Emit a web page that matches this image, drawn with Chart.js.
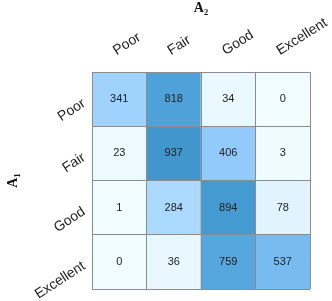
<!DOCTYPE html>
<html>
<head>
<meta charset="utf-8">
<script src="https://cdn.jsdelivr.net/npm/chart.js@4"></script>
<style>
html, body { margin: 0; padding: 0; background: #fff; }
#wrap { width: 332px; height: 301px; }
</style>
</head>
<body>
<div id="wrap"><canvas id="heat"></canvas></div>
<script>
// categories
const colLabels = ['Poor', 'Fair', 'Good', 'Excellent'];   // A2
const rowLabels = ['Poor', 'Fair', 'Good', 'Excellent'];   // A1
// counts per row (A1), one value per column (A2)
const rowPoor = [341, 818, 34, 0];
const rowFair = [23, 937, 406, 3];
const rowGood = [1, 284, 894, 78];
const rowExcellent = [0, 36, 759, 537];
const counts = [rowPoor, rowFair, rowGood, rowExcellent];
const titleX = 'A₂';
const titleY = 'A₁';

const maxCount = Math.max(...counts.flat());

// light cyan -> blue colour map
const stops = [
    [0.00, [240, 252, 255]],
    [0.08, [226, 243, 254]],
    [0.30, [172, 217, 255]],
    [0.45, [142, 200, 251]],
    [0.60, [114, 184, 239]],
    [0.85, [80, 164, 219]],
    [1.00, [64, 150, 205]]
];
function cellColor(v) {
    let t = v / maxCount;
    for (let i = 1; i < stops.length; i++) {
        if (t <= stops[i][0]) {
            let a = stops[i - 1], b = stops[i];
            let f = (t - a[0]) / (b[0] - a[0]);
            let c = a[1].map((x, k) => Math.round(x + (b[1][k] - x) * f));
            return 'rgb(' + c.join(',') + ')';
        }
    }
    return 'rgb(' + stops[stops.length - 1][1].join(',') + ')';
}

const gridColor = '#8c8c8c';
const tickFont = { family: '"Liberation Sans", Arial, sans-serif', size: 14 };
const titleFont = { family: '"Liberation Serif", serif', size: 14, weight: 'bold' };

// write the count in the middle of each cell
const cellText = {
    id: 'cellText',
    afterDatasetsDraw(chart) {
        let ctx = chart.ctx;
        ctx.save();
        ctx.font = '11px "Liberation Sans", Arial, sans-serif';
        ctx.fillStyle = '#222';
        ctx.textAlign = 'center';
        ctx.textBaseline = 'middle';
        counts.forEach(function(row, r) {
            chart.getDatasetMeta(r).data.forEach(function(bar, j) {
                ctx.fillText(String(row[j]), bar.x, (bar.y + bar.base) / 2);
            });
        });
        ctx.restore();
    }
};

const datasets = counts.map(function(row, r) {
    return {
        label: rowLabels[r],
        data: row.map(function() { return [r, r + 1]; }),
        backgroundColor: row.map(cellColor),
        borderWidth: 0
    };
});

new Chart(document.getElementById('heat'), {
    type: 'bar',
    data: { labels: colLabels, datasets: datasets },
    plugins: [cellText],
    options: {
        responsive: true,
        maintainAspectRatio: false,
        animation: false,
        layout: { padding: { top: 0, left: 0, right: 22, bottom: 12 } },
        datasets: { bar: { barPercentage: 1, categoryPercentage: 1, grouped: false } },
        plugins: { legend: { display: false }, tooltip: { enabled: false } },
        scales: {
            x: {
                type: 'category',
                position: 'top',
                offset: true,
                grid: { offset: true, color: gridColor, drawTicks: false, z: 1 },
                border: { display: false },
                ticks: { minRotation: 32, maxRotation: 32, padding: 13, labelOffset: 4, font: tickFont, color: '#222' },
                title: { display: true, text: titleX, font: titleFont, color: '#111', padding: 0 },
                afterFit: function(s) { s.height = 72; s.paddingLeft = 0; s.paddingRight = 0; }
            },
            y: {
                type: 'linear',
                position: 'left',
                min: 0,
                max: 4,
                reverse: true,
                ticks: { display: false, stepSize: 1 },
                grid: { color: gridColor, drawTicks: false, z: 1 },
                border: { display: false },
                afterFit: function(s) { s.width = 0; s.paddingTop = 0; s.paddingBottom = 0; }
            },
            yl: {
                type: 'linear',
                position: 'left',
                min: 0,
                max: 4,
                reverse: true,
                afterBuildTicks: function(s) {
                    s.ticks = rowLabels.map(function(_, i) { return { value: i + 0.5 }; });
                },
                ticks: {
                    callback: function(v) { return rowLabels[Math.floor(v)]; },
                    minRotation: 33, maxRotation: 33, padding: 8, labelOffset: 3, font: tickFont, color: '#222'
                },
                grid: { display: false, drawTicks: false },
                border: { display: false },
                title: { display: true, text: titleY, font: titleFont, color: '#111', padding: 5 },
                afterFit: function(s) { s.width = 92; s.paddingTop = 0; s.paddingBottom = 0; }
            }
        }
    }
});
</script>
</body>
</html>
